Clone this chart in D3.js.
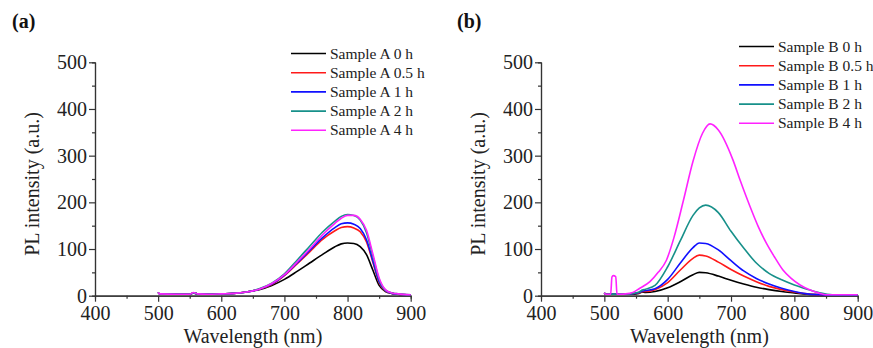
<!DOCTYPE html>
<html>
<head>
<meta charset="utf-8">
<script src="https://cdn.jsdelivr.net/npm/d3@7"></script>
<style>
  body { margin: 0; background: #fff; }
  svg { display: block; }
  .axis path, .axis line { stroke: #333; stroke-width: 1.2; }
</style>
</head>
<body>
<svg id="chart" width="873" height="348"></svg>
<script>
// PL spectra, panel (a) and (b)
const xTicks = [400, 500, 600, 700, 800, 900];
const yTicks = [0, 100, 200, 300, 400, 500];
const seriesColors = ["#000000", "#ff1a1a", "#1010ff", "#17908a", "#ff22ff"];

const labelsA = ["Sample A 0 h", "Sample A 0.5 h", "Sample A 1 h", "Sample A 2 h", "Sample A 4 h"];
const labelsB = ["Sample B 0 h", "Sample B 0.5 h", "Sample B 1 h", "Sample B 2 h", "Sample B 4 h"];

// panel (a) wavelengths and intensities
const wlA = [500, 502, 530, 550, 556, 562, 580, 600, 620, 640, 660, 680, 700, 720, 740, 760, 780, 790, 800, 810, 820, 830, 840, 850, 860, 870, 880, 900];
const a0h  = [7, 4, 3, 3, 6, 4, 3, 4, 5, 8, 13, 22, 35, 52, 70, 88, 105, 111, 113, 112, 105, 88, 55, 22, 9, 5, 3, 2];
const a05h = [7, 4, 3, 3, 6, 4, 3, 4, 5, 8, 14, 24, 43, 68, 94, 120, 139, 146, 148, 145, 137, 115, 72, 28, 10, 5, 3, 2];
const a1h  = [7, 4, 3, 3, 6, 4, 3, 4, 5, 8, 14, 25, 44, 70, 97, 124, 146, 154, 156, 153, 144, 120, 75, 30, 11, 5, 3, 2];
const a2h  = [7, 4, 3, 3, 6, 4, 3, 4, 5, 8, 15, 27, 47, 76, 106, 136, 160, 170, 174, 172, 162, 135, 85, 35, 12, 6, 4, 2];
const a4h  = [7, 4, 3, 3, 7, 4, 3, 4, 5, 8, 14, 26, 45, 72, 100, 130, 155, 166, 172, 172, 164, 140, 90, 38, 13, 6, 4, 2];

// panel (b) wavelengths and intensities
const wlB = [500, 502, 540, 555, 560, 565, 580, 600, 620, 640, 650, 660, 680, 700, 720, 740, 760, 780, 800, 820, 840, 860, 900];
const b0h  = [6, 3, 3, 5, 8, 7, 9, 17, 30, 45, 50, 49, 42, 33, 25, 18, 13, 9, 6, 3, 2, 1, 1];
const b05h = [6, 3, 4, 6, 9, 9, 13, 28, 55, 80, 87, 85, 72, 56, 42, 30, 20, 13, 8, 4, 2, 1, 1];
const b1h  = [6, 3, 4, 7, 10, 11, 15, 35, 70, 103, 113, 112, 98, 75, 53, 37, 25, 16, 9, 4, 2, 1, 1];
const b2h  = [6, 3, 4, 8, 12, 14, 22, 62, 118, 172, 188, 194, 178, 138, 102, 70, 48, 34, 23, 14, 6, 2, 2];
const wlB4 = [500, 502, 510, 512, 514, 518, 520, 540, 556, 572, 585, 598, 610, 625, 640, 655, 667, 680, 703, 715, 730, 743, 756, 770, 782, 795, 809, 825, 840, 850, 860, 900];
const b4h  = [6, 3, 3, 40, 43, 41, 3, 5, 16, 30, 50, 76, 125, 205, 288, 348, 368, 355, 291, 245, 191, 148, 112, 80, 55, 37, 23, 12, 5, 2, 2, 2];

const serif = "'Liberation Serif', 'Times New Roman', serif";
const svg = d3.select("#chart");

const panels = [
    {
        title: "(a)", titleX: 12, left: 95, right: 410.7,
        labels: labelsA, legendX: 291, legendY: 53.5,
        series: [[wlA, a0h], [wlA, a05h], [wlA, a1h], [wlA, a2h], [wlA, a4h]]
    },
    {
        title: "(b)", titleX: 457, left: 541, right: 857.7,
        labels: labelsB, legendX: 739, legendY: 46.5,
        series: [[wlB, b0h], [wlB, b05h], [wlB, b1h], [wlB, b2h], [wlB4, b4h]]
    }
];

const plotTop = 62.3, plotBottom = 295.7;

panels.forEach(p => {
    const x = d3.scaleLinear().domain([400, 900]).range([p.left, p.right]);
    const y = d3.scaleLinear().domain([0, 500]).range([plotBottom, plotTop]);

    // panel title
    svg.append("text")
        .style("font-family", serif)
        .style("font-size", "20px")
        .style("font-weight", "bold")
        .attr("fill", "#111")
        .attr("x", p.titleX)
        .attr("y", 28)
        .text(p.title);

    // minor ticks
    svg.append("g")
        .attr("class", "axis")
        .attr("transform", `translate(0, ${plotBottom})`)
        .call(d3.axisBottom(x).tickValues([450, 550, 650, 750, 850]).tickSize(3).tickFormat(""));
    svg.append("g")
        .attr("class", "axis")
        .attr("transform", `translate(${p.left}, 0)`)
        .call(d3.axisLeft(y).tickValues([50, 150, 250, 350, 450]).tickSize(3).tickFormat(""));

    // major ticks
    const xAxis = svg.append("g")
        .attr("class", "axis")
        .attr("transform", `translate(0, ${plotBottom})`)
        .call(d3.axisBottom(x).tickValues(xTicks).tickSize(6).tickSizeOuter(0).tickPadding(4));
    const yAxis = svg.append("g")
        .attr("class", "axis")
        .attr("transform", `translate(${p.left}, 0)`)
        .call(d3.axisLeft(y).tickValues(yTicks).tickSize(6).tickSizeOuter(0).tickPadding(2));

    [xAxis, yAxis].forEach(g => g.selectAll("text")
        .style("font-family", serif)
        .style("font-size", "20px")
        .attr("fill", "#222"));

    // axis labels
    svg.append("text")
        .style("font-family", serif)
        .style("font-size", "20px")
        .attr("fill", "#222")
        .attr("x", (p.left + p.right) / 2)
        .attr("y", 343)
        .attr("text-anchor", "middle")
        .text("Wavelength (nm)");

    svg.append("text")
        .style("font-family", serif)
        .style("font-size", "20px")
        .attr("fill", "#222")
        .attr("transform", `translate(${p.left - 56}, 184) rotate(-90)`)
        .attr("text-anchor", "middle")
        .text("PL intensity (a.u.)");

    // curves
    const line = d3.line()
        .x(d => x(d[0]))
        .y(d => y(d[1]))
        .curve(d3.curveMonotoneX);

    p.series.forEach((s, i) => {
        const pts = s[0].map((w, j) => [w, s[1][j]]);
        svg.append("path")
            .datum(pts)
            .attr("fill", "none")
            .attr("stroke", seriesColors[i])
            .attr("stroke-width", 1.6)
            .attr("d", line);
    });

    // legend
    const legend = svg.append("g");
    p.labels.forEach((lab, i) => {
        const ly = p.legendY + i * 19.2;
        legend.append("line")
            .attr("x1", p.legendX).attr("x2", p.legendX + 35)
            .attr("y1", ly).attr("y2", ly)
            .attr("stroke", seriesColors[i])
            .attr("stroke-width", 1.6);
        legend.append("text")
            .style("font-family", serif)
            .style("font-size", "15.5px")
            .attr("fill", "#222")
            .attr("x", p.legendX + 39)
            .attr("y", ly)
            .attr("dy", "0.33em")
            .text(lab);
    });
});
</script>
</body>
</html>
